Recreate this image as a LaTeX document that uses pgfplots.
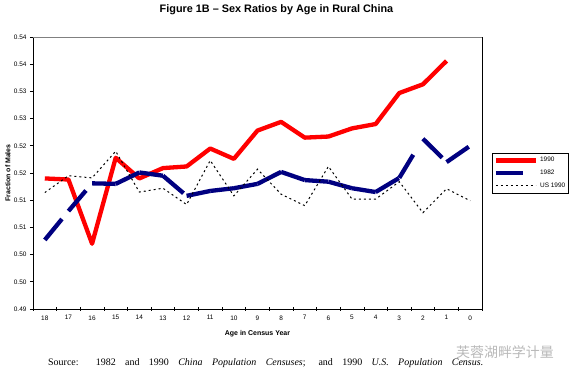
\documentclass[border=0pt]{standalone}
\usepackage{fontspec}
\setmainfont{Liberation Serif}
\setsansfont{Liberation Sans}
\newfontfamily\cjk{Noto Sans CJK SC}
\usepackage{pgfplots}
\pgfplotsset{compat=1.18}
\definecolor{navy}{RGB}{0,0,128}
\definecolor{exred}{RGB}{255,0,0}
\tikzset{seg82/.style={navy, line width=4.3bp, line cap=butt, dash pattern=on 27bp off 30bp}}
\begin{document}
\begin{tikzpicture}
\useasboundingbox (0,0) rectangle (573bp,380bp);
\begin{axis}[
  at={(33bp,71bp)}, anchor=south west,
  scale only axis, width=449bp, height=272bp,
  xmin=-0.5, xmax=18.5, x dir=reverse,
  ymin=0.49, ymax=0.54,
  xtick={0,...,18},
  major x tick style={draw=none},
  minor xtick={-0.5,0.5,...,18.5},
  minor tick length=4bp,
  xtick align=center,
  ytick={0.49,0.495,0.50,0.505,0.51,0.515,0.52,0.525,0.53,0.535,0.54},
  yticklabels={0.49,0.50,0.50,0.51,0.51,0.52,0.52,0.53,0.53,0.54,0.54},
  ytick align=outside, major tick length=3bp,
  ytick pos=left, xtick pos=bottom,
  /pgf/number format/assume math mode=true,
  ticklabel style={font=\sffamily\fontsize{6.5}{7}\selectfont},
  xticklabel style={yshift=-1.5bp},
  xlabel={Age in Census Year},
  ylabel={Fraction of Males},
  label style={font=\sffamily\bfseries\fontsize{7}{8}\selectfont},
  xlabel style={at={(axis description cs:0.5,-0.0919)}, anchor=center},
  ylabel style={at={(axis description cs:-0.0557,0.5)}, anchor=center},
  axis line style={line width=0.8bp},
  tick style={black, line width=0.6bp},
  clip=false,
  legend style={at={(axis description cs:1.0223,0.5)}, anchor=west,
    draw=black, line width=0.6bp,
    font=\sffamily\fontsize{6.5}{7}\selectfont,
    inner xsep=1.5bp, inner ysep=2.5bp, row sep=2.6bp,
    cells={anchor=west}},
  legend image code/.code={\draw[#1] (0bp,0bp) -- (40bp,0bp);},
]
% 1990 rural China
\addplot[exred, line width=4.3bp, line join=round, forget plot] coordinates {
(18,0.5140) (17,0.5138) (16,0.5020) (15,0.5178) (14,0.5140) (13,0.5159)
(12,0.5162) (11,0.5195) (10,0.5176) (9,0.5228) (8,0.5244) (7,0.5215)
(6,0.5217) (5,0.5232) (4,0.5240) (3,0.5297) (2,0.5313) (1,0.5356)};
% 1982 rural China, each segment drawn on its own (dash pattern restarts)
\addplot[seg82, forget plot] coordinates {(18,0.5027) (17,0.5080)};
\addplot[seg82, forget plot] coordinates {(17,0.5080) (16,0.5131)};
\addplot[seg82, forget plot] coordinates {(16,0.5131) (15,0.5130)};
\addplot[seg82, forget plot] coordinates {(15,0.5130) (14,0.5151)};
\addplot[seg82, forget plot] coordinates {(14,0.5151) (13,0.5145)};
\addplot[seg82, forget plot] coordinates {(13,0.5145) (12,0.5108)};
\addplot[seg82, forget plot] coordinates {(12,0.5108) (11,0.5117)};
\addplot[seg82, forget plot] coordinates {(11,0.5117) (10,0.5122)};
\addplot[seg82, forget plot] coordinates {(10,0.5122) (9,0.5130)};
\addplot[seg82, forget plot] coordinates {(9,0.5130) (8,0.5152)};
\addplot[seg82, forget plot] coordinates {(8,0.5152) (7,0.5137)};
\addplot[seg82, forget plot] coordinates {(7,0.5137) (6,0.5134)};
\addplot[seg82, forget plot] coordinates {(6,0.5134) (5,0.5122)};
\addplot[seg82, forget plot] coordinates {(5,0.5122) (4,0.5115)};
\addplot[seg82, forget plot] coordinates {(4,0.5115) (3,0.5141)};
\addplot[seg82, forget plot] coordinates {(3,0.5141) (2,0.5213)};
\addplot[seg82, forget plot] coordinates {(2,0.5213) (1,0.5170)};
\addplot[seg82, forget plot] coordinates {(1,0.5170) (0,0.5200)};
% US 1990
\addplot[black, line width=1bp, dash pattern=on 2bp off 3bp, forget plot] coordinates {
(18,0.5114) (17,0.5145) (16,0.5141) (15,0.5190) (14,0.5115) (13,0.5122)
(12,0.5092) (11,0.5173) (10,0.5108) (9,0.5157) (8,0.5111) (7,0.5090)
(6,0.5162) (5,0.5102) (4,0.5102) (3,0.5134) (2,0.5077) (1,0.5121) (0,0.5099)};
\addlegendimage{exred, line width=4.3bp}
\addlegendentry{1990}
\addlegendimage{seg82}
\addlegendentry{1982}
\addlegendimage{black, line width=1bp, dash pattern=on 2bp off 3bp}
\addlegendentry{US 1990}
\draw[gray, line width=0.8bp] (rel axis cs:0,1) -- (rel axis cs:1,1);
\end{axis}
\node[font=\sffamily\bfseries\fontsize{10.9}{12}\selectfont] at (276.5bp,370bp) {Figure 1B -- Sex Ratios by Age in Rural China};
\node[anchor=base west, inner sep=0pt, font=\fontsize{10}{12}\selectfont] at (48bp,15bp)
  {\makebox[435bp][s]{Source: 1982 and 1990 \textit{China Population Censuses}; and 1990 \textit{U.S. Population Census}.}};
\node[anchor=west, inner sep=0pt, text=gray!55, font=\cjk\fontsize{14}{16}\selectfont] at (456bp,28bp) {芙蓉湖畔学计量};
\end{tikzpicture}
\end{document}
